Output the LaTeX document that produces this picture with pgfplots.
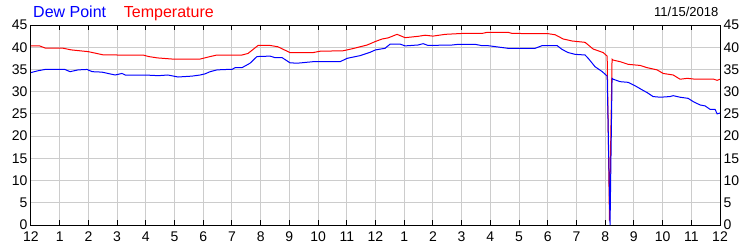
\documentclass[border=0pt]{standalone}
\usepackage{fontspec}
\setmainfont{Liberation Sans}
\usepackage{pgfplots}
\pgfplotsset{compat=1.18}
\usepackage{pgfplotstable}
\definecolor{gridgray}{RGB}{204,204,204}

\pgfplotstableread{
h t
0 40.3
0.3 40.3
0.5 39.8
1.1 39.8
1.4 39.4
2.0 39.0
2.5 38.3
3.0 38.25
3.9 38.25
4.1 37.9
4.4 37.6
4.9 37.35
5.9 37.35
6.24 37.9
6.48 38.25
7.35 38.25
7.56 38.6
7.91 40.4
8.33 40.4
8.6 40.1
9.02 38.8
9.83 38.8
10.07 39.1
10.87 39.2
11.22 39.7
11.71 40.5
12.0 41.3
12.23 41.85
12.44 42.1
12.75 42.9
13.03 42.15
13.48 42.45
13.73 42.7
14.0 42.5
14.43 42.9
15.02 43.1
15.71 43.1
15.89 43.35
16.62 43.35
16.76 43.1
18.01 43.05
18.26 42.8
18.54 41.85
18.85 41.4
19.3 41.1
19.58 39.6
19.93 38.8
20.07 38.0
20.15 1.0
20.24 37.3
20.28 37.1
20.52 36.75
20.8 36.15
21.22 35.9
21.46 35.4
21.81 34.9
22.02 34.1
22.37 33.75
22.61 32.8
22.86 33.0
23.07 32.85
23.76 32.85
23.9 32.55
24 32.8
}\temptable

\pgfplotstableread{
h d
0 34.3
0.24 34.7
0.49 35.0
1.18 35.0
1.36 34.5
1.64 34.9
1.95 35.0
2.13 34.5
2.47 34.4
2.93 33.75
3.17 34.1
3.28 33.75
3.97 33.75
4.43 33.6
4.77 33.75
5.12 33.3
5.61 33.5
5.89 33.75
6.06 34.0
6.24 34.5
6.48 34.9
6.83 35.0
7.0 35.0
7.11 35.4
7.35 35.4
7.63 36.4
7.87 37.9
8.33 38.0
8.5 37.65
8.75 37.65
9.02 36.5
9.27 36.4
9.83 36.75
10.77 36.75
11.01 37.5
11.46 38.1
11.81 38.85
12.0 39.4
12.33 39.75
12.51 40.7
12.86 40.7
13.03 40.3
13.48 40.5
13.66 40.8
13.83 40.4
14.67 40.5
14.88 40.65
15.47 40.65
15.71 40.35
15.92 40.35
16.62 39.75
17.56 39.75
17.8 40.35
18.33 40.35
18.5 39.5
18.71 38.8
18.95 38.4
19.3 38.25
19.41 37.5
19.65 35.6
19.9 34.5
20.07 33.5
20.17 0
20.24 33.0
20.28 32.8
20.52 32.25
20.8 32.1
21.05 31.3
21.29 30.4
21.46 29.8
21.67 28.9
21.92 28.75
22.26 28.9
22.37 29.1
22.61 28.75
22.89 28.5
23.07 27.75
23.31 27.0
23.48 26.8
23.66 26.0
23.83 26.0
23.9 25.0
24 25.2
}\dewtable

\begin{document}
\begin{tikzpicture}[x=1pt,y=1pt]
\useasboundingbox (0,0) rectangle (750,250);
\pgfplotsset{common/.style={
  at={(31pt,25pt)}, anchor=south west,
  width=689pt, height=200pt, scale only axis,
  xmin=0, xmax=24, ymin=0, ymax=45,
  xtick={0,...,24}, ytick={0,5,...,45},
  /pgf/number format/assume math mode=true,
  tick label style={font=\fontsize{14}{16}\selectfont},
}}
\begin{axis}[common,
  grid=major,
  major grid style={gridgray, line width=1pt},
  axis line style={black, line width=1pt},
  xtick pos=both, ytick pos=left,
  tick align=inside,
  xtick style={black, line width=1pt},
  major tick length=5pt,
  ytick style={draw=none},
  xticklabels={12,1,2,3,4,5,6,7,8,9,10,11,12,1,2,3,4,5,6,7,8,9,10,11,12},
  xticklabel style={yshift=-3pt},
]
\addplot[red, line width=1pt, mark=none] table[x=h, y=t] {\temptable};
\addplot[blue, line width=1pt, mark=none] table[x=h, y=d] {\dewtable};
\end{axis}
\begin{axis}[common,
  axis line style={draw=none},
  xtick=\empty,
  yticklabel pos=right,
  ytick style={draw=none},
]
\end{axis}
\node[anchor=base west, inner sep=0pt, text=blue, font=\fontsize{16}{19}\selectfont] at (33,232.7) {Dew Point};
\node[anchor=base west, inner sep=0pt, text=red, font=\fontsize{16}{19}\selectfont] at (123.7,232.7) {Temperature};
\node[anchor=base east, inner sep=0pt, font=\fontsize{13}{15}\selectfont] at (718.5,233.3) {11/15/2018};
\end{tikzpicture}
\end{document}
